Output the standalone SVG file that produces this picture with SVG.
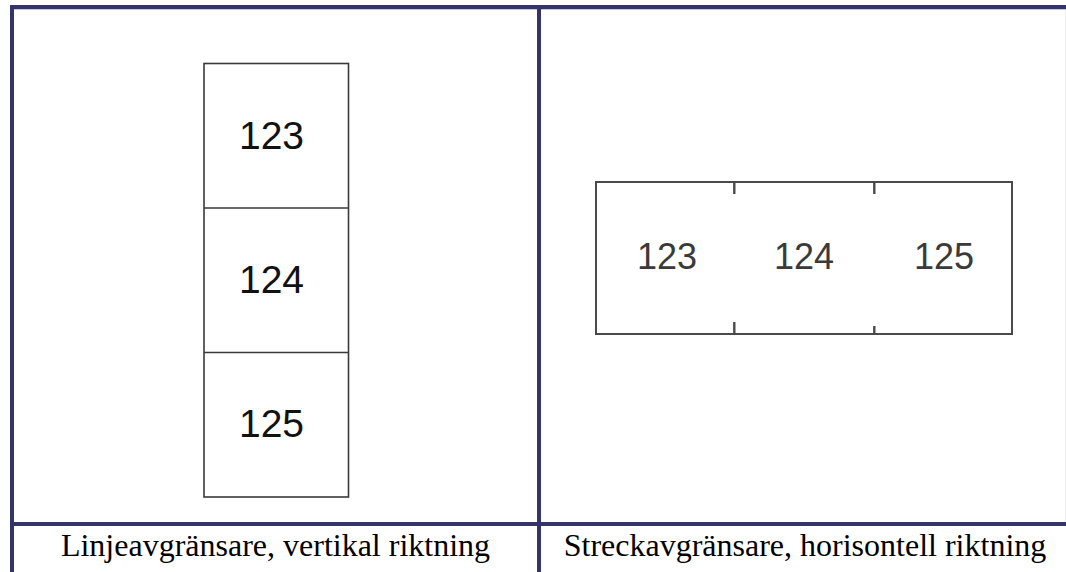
<svg xmlns="http://www.w3.org/2000/svg" width="1066" height="572" viewBox="0 0 1066 572">
<style>
.tbl{stroke:#34346a;stroke-width:4;fill:none}
.lite{stroke:#c4c4e4;stroke-width:1;fill:none}
.box{fill:#ffffff;stroke:#3a3a3a;stroke-width:1.6}
.boxh{fill:#ffffff;stroke:#4a4a4a;stroke-width:2}
.tick{stroke:#4a4a4a;stroke-width:2.4}
.num{font-family:"Liberation Sans",Arial,sans-serif;font-size:39px;fill:#111111;text-anchor:middle}
.numh{font-family:"Liberation Sans",Arial,sans-serif;font-size:36px;fill:#3a3a3a;text-anchor:middle}
.cap{font-family:"Liberation Serif","Times New Roman",serif;font-size:32px;fill:#000000;text-anchor:middle}
</style>
<rect width="1066" height="572" fill="#ffffff"/>
<g id="table">
<line class="tbl" x1="10" y1="7" x2="1066" y2="7"/>
<line class="lite" x1="14" y1="9.5" x2="1066" y2="9.5"/>
<line class="tbl" x1="12" y1="5" x2="12" y2="572"/>
<line class="tbl" x1="539" y1="5" x2="539" y2="572"/>
<line class="tbl" x1="10" y1="524" x2="1066" y2="524"/>
<line x1="1065.5" y1="10" x2="1065.5" y2="522" stroke="#ececf2" stroke-width="1"/>
</g>
<g id="vertical-label">
<rect class="box" x="204" y="63.5" width="144.5" height="433.5"/>
<line class="box" x1="204" y1="208" x2="348.5" y2="208"/>
<line class="box" x1="204" y1="352.5" x2="348.5" y2="352.5"/>
<text class="num" x="271.5" y="149">123</text>
<text class="num" x="271.5" y="293">124</text>
<text class="num" x="271.5" y="437">125</text>
</g>
<g id="horizontal-label">
<rect class="boxh" x="596" y="182" width="416" height="152"/>
<line class="tick" x1="734.3" y1="182" x2="734.3" y2="194"/>
<line class="tick" x1="874.3" y1="182" x2="874.3" y2="194"/>
<line class="tick" x1="734.3" y1="322" x2="734.3" y2="334"/>
<line class="tick" x1="874.3" y1="326" x2="874.3" y2="334"/>
<text class="numh" x="667" y="269">123</text>
<text class="numh" x="804" y="269">124</text>
<text class="numh" x="944" y="269">125</text>
</g>
<g id="captions">
<text class="cap" x="275.5" y="556">Linjeavgränsare, vertikal riktning</text>
<text class="cap" x="805" y="556">Streckavgränsare, horisontell riktning</text>
</g>
</svg>
